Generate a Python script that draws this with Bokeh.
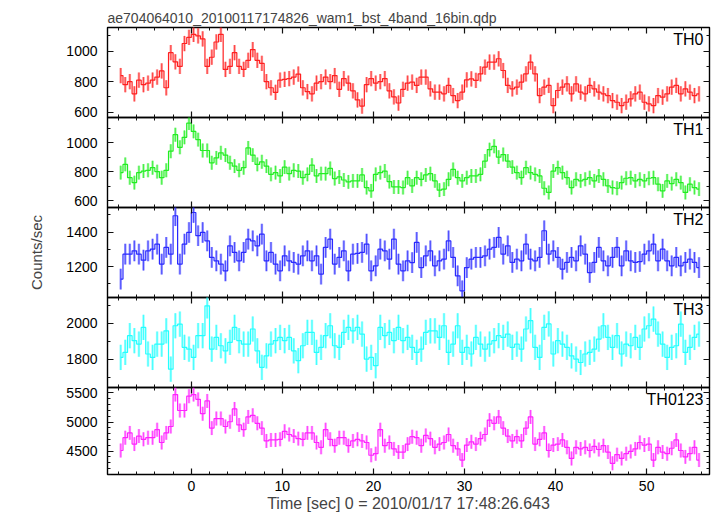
from bokeh.plotting import figure
from bokeh.models import Range1d, SingleIntervalTicker, LinearAxis, Label, ColumnDataSource, Title
from bokeh.layouts import column
from bokeh.embed import file_html
from bokeh.resources import INLINE

TITLE = "ae704064010_20100117174826_wam1_bst_4band_16bin.qdp"
XLABEL = "Time [sec] 0 = 2010/01/17 17:48:26.643"
YLABEL = "Counts/sec"
BIN_START = -7.75   # centre of first bin [s]
BIN_WIDTH = 0.5     # bin width [s]
X_RANGE = (-9.2, 56.9)

TH0 = [840, 780, 800, 720, 810, 780, 790, 810, 830, 870, 760, 990, 930, 900, 1050, 1090, 1110, 1100, 1080, 900,
       960, 1060, 1110, 880, 900, 990, 900, 880, 940, 1010, 940, 920, 800, 760, 730, 810, 815, 820, 830, 850,
       760, 735, 720, 790, 800, 830, 800, 840, 750, 820, 790, 740, 680, 640, 780, 820, 790, 800, 820, 740,
       700, 660, 750, 790,
       797, 775, 830, 830, 753, 731, 731, 720, 775, 709, 676, 731, 812, 818, 808, 851, 895, 928, 928, 950,
       873, 775, 753, 764, 797, 851, 928, 851, 709, 764, 775, 643, 742, 764, 786, 720, 786, 731, 720, 775,
       753, 731, 720, 709, 676, 665, 643, 665, 687, 720, 731, 665, 654, 643, 709, 698, 720, 764, 775, 720,
       753, 731, 709, 720]
TH1 = [795, 852, 760, 726, 795, 806, 811, 829, 802, 760, 811, 943, 1057, 970, 1039, 1137, 1080, 1023, 948, 948,
       863, 897, 932, 916, 863, 840, 811, 829, 966, 916, 852, 870, 840, 783, 795, 772, 833, 788, 811, 806,
       760, 783, 847, 772, 788, 788, 824, 754, 765, 744, 731, 738, 738, 779, 692, 669, 783, 795, 806, 733,
       696, 696, 692, 760,
       703, 760, 749, 779, 788, 738, 674, 681, 749, 817, 760, 738, 760, 772, 772, 783, 875, 954, 977, 902,
       920, 875, 833, 795, 760, 829, 795, 783, 772, 687, 658, 806, 829, 795, 760, 692, 749, 738, 749, 760,
       738, 772, 749, 703, 692, 687, 726, 756, 760, 738, 749, 738, 756, 760, 715, 669, 738, 719, 749, 726,
       658, 715, 692, 681]
TH2 = [1127, 1272, 1272, 1291, 1272, 1237, 1291, 1301, 1330, 1214, 1311, 1272, 1495, 1214, 1330, 1398, 1514, 1379, 1398, 1349,
       1253, 1233, 1214, 1175, 1320, 1282, 1233, 1282, 1359, 1349, 1320, 1388, 1233, 1282, 1214, 1175, 1262, 1233, 1224, 1214,
       1262, 1291, 1233, 1262, 1156, 1311, 1359, 1214, 1253, 1291, 1175, 1272, 1276, 1282, 1330, 1175, 1204, 1301, 1291, 1243,
       1359, 1214, 1175, 1233,
       1223, 1340, 1194, 1262, 1291, 1204, 1233, 1243, 1349, 1253, 1146, 1059, 1194, 1243, 1253, 1253, 1262, 1301, 1311, 1369,
       1272, 1320, 1224, 1243, 1233, 1330, 1243, 1233, 1253, 1408, 1272, 1291, 1253, 1185, 1224, 1253, 1233, 1320, 1272, 1165,
       1224, 1311, 1233, 1204, 1253, 1311, 1204, 1291, 1233, 1224, 1229, 1272, 1291, 1330, 1233, 1301, 1233, 1204, 1253, 1204,
       1224, 1243, 1224, 1194]
TH3 = [1809, 1837, 1930, 1902, 1883, 1976, 1828, 1809, 1883, 1883, 1957, 1744, 1985, 1994, 1865, 1855, 1809, 1930, 1930, 2096,
       1855, 1920, 1874, 1846, 1893, 1976, 1902, 1883, 1883, 1967, 1846, 1754, 1818, 1883, 1902, 1920, 1902, 1920, 1846, 1791,
       1874, 1948, 1948, 1837, 1865, 1930, 1985, 1874, 1865, 1948, 1976, 1957, 1976, 1939, 1800, 1809, 1763, 1976, 1930, 1948,
       1902, 1976, 1902, 1920,
       1865, 1837, 1855, 1948, 1957, 1957, 1920, 1985, 1837, 1883, 1985, 1837, 1865, 1828, 1920, 1883, 1855, 1883, 1902, 1930,
       1920, 1939, 1865, 1883, 1855, 1967, 2013, 1865, 1809, 1976, 1995, 1828, 1902, 1883, 1865, 1818, 1800, 1781, 1828, 1837,
       1855, 1911, 1985, 1920, 1865, 1930, 1828, 1883, 1874, 1920, 1865, 1967, 1985, 2022, 1939, 1883, 1809, 1865, 1874, 1994,
       1837, 1865, 1920, 1939]
TH0123 = [4510, 4730, 4813, 4620, 4758, 4703, 4730, 4730, 4868, 4648, 4813, 4923, 5473, 5198, 5198, 5445, 5473, 5390, 5143, 5363,
          4895, 5060, 5060, 4923, 5005, 5225, 4950, 4868, 5088, 5115, 4978, 4895, 4675, 4692, 4692, 4703, 4840, 4785, 4758, 4714,
          4703, 4813, 4813, 4648, 4565, 4868, 4703, 4593, 4730, 4730, 4593, 4675, 4703, 4675, 4648, 4428, 4455, 4868, 4593, 4648,
          4538, 4483, 4483, 4620,
          4747, 4730, 4593, 4769, 4714, 4565, 4620, 4648, 4785, 4593, 4538, 4345, 4604, 4659, 4620, 4714, 4785, 5033, 4978, 5088,
          4895, 4758, 4675, 4747, 4675, 4895, 5088, 4620, 4703, 4813, 4510, 4604, 4620, 4692, 4565, 4373, 4565, 4538, 4565, 4510,
          4582, 4527, 4593, 4483, 4290, 4439, 4373, 4455, 4494, 4538, 4648, 4604, 4620, 4345, 4565, 4483, 4455, 4549, 4692, 4510,
          4400, 4455, 4565, 4345]

# per-panel 1-sigma error (counts/sec), y range, major tick interval, number of minor ticks
ERRORS = {"TH0": 50, "TH1": 48, "TH2": 60, "TH3": 70, "TH0123": 120}
Y_RANGES = {"TH0": (565, 1155), "TH1": (554, 1176), "TH2": (1020, 1543), "TH3": (1642, 2142), "TH0123": (4097, 5594)}
Y_TICKS = {"TH0": (200, 2), "TH1": (200, 2), "TH2": (200, 2), "TH3": (200, 2), "TH0123": (500, 5)}
COLORS = {"TH0": "#ff2020", "TH1": "#22ee22", "TH2": "#2a2aff", "TH3": "#22ffff", "TH0123": "#ff22ff"}
SERIES = [("TH0", TH0), ("TH1", TH1), ("TH2", TH2), ("TH3", TH3), ("TH0123", TH0123)]

FONT = "Liberation Sans"
FRAME_H = 90
TOP = 27
BOTTOM = 37
OV = 10   # overlap between neighbouring canvases so tick labels are not clipped
x_range = Range1d(*X_RANGE)


def style_axis(a, labels):
    a.axis_line_color = None
    a.major_tick_in = 6
    a.major_tick_out = 0
    a.minor_tick_in = 3
    a.minor_tick_out = 0
    a.major_tick_line_color = "#111111"
    a.minor_tick_line_color = "#111111"
    a.major_tick_line_width = 1.2
    a.minor_tick_line_width = 1
    if labels:
        a.major_label_text_font = FONT
        a.major_label_text_font_size = "14px"
        a.major_label_text_color = "black"
    else:
        a.major_label_text_font_size = "1px"
        a.major_label_text_color = None
        a.major_label_standoff = 0
    return a


panels = []
n = len(SERIES)
for i, (name, vals) in enumerate(SERIES):
    first = i == 0
    last = i == n - 1
    top = TOP if first else OV
    bottom = BOTTOM if last else OV
    yr = Range1d(*Y_RANGES[name])
    p = figure(width=712, height=FRAME_H + top + bottom, x_range=x_range, y_range=yr,
               output_backend="svg", toolbar_location=None,
               min_border_left=107, min_border_right=3, min_border_top=top, min_border_bottom=bottom,
               x_axis_location=None, y_axis_location=None)
    p.grid.visible = False
    p.outline_line_color = "black"
    p.outline_line_width = 1.4
    p.background_fill_color = None
    p.border_fill_color = None
    if not first:
        p.styles = {"margin-top": f"-{2 * OV}px"}

    t = [BIN_START + BIN_WIDTH * k for k in range(len(vals))]
    e = ERRORS[name]
    src = ColumnDataSource(dict(t=t, v=vals, lo=[v - e for v in vals], hi=[v + e for v in vals]))
    col = COLORS[name]
    p.segment(x0="t", y0="lo", x1="t", y1="hi", source=src, line_color=col, line_alpha=0.45, line_width=2.5)
    p.segment(x0="t", y0="lo", x1="t", y1="hi", source=src, line_color=col, line_alpha=0.9, line_width=0.8)
    p.step(x="t", y="v", source=src, mode="center", line_color=col, line_width=1.2)

    interval, nminor = Y_TICKS[name]
    xt = SingleIntervalTicker(interval=10, num_minor_ticks=5)
    yt = SingleIntervalTicker(interval=interval, num_minor_ticks=nminor)

    left = style_axis(LinearAxis(ticker=yt), True)
    left.major_label_standoff = 10
    if name == "TH2":
        left.axis_label = YLABEL
        left.axis_label_text_font = FONT
        left.axis_label_text_font_size = "15px"
        left.axis_label_text_font_style = "normal"
        left.axis_label_standoff = 18
    p.add_layout(left, "left")
    p.add_layout(style_axis(LinearAxis(ticker=yt), False), "right")
    p.add_layout(style_axis(LinearAxis(ticker=xt), False), "above")
    below = style_axis(LinearAxis(ticker=xt), last)
    if last:
        below.major_label_standoff = 6
        below.axis_label = XLABEL
        below.axis_label_text_font = FONT
        below.axis_label_text_font_size = "16px"
        below.axis_label_text_font_style = "normal"
        below.axis_label_standoff = 1
    p.add_layout(below, "below")

    if first:
        p.add_layout(Title(text=TITLE, text_font=FONT, text_font_size="14px", text_font_style="normal",
                           align="left", standoff=4, offset=0), "above")

    p.add_layout(Label(x=X_RANGE[1], y=Y_RANGES[name][1], x_offset=-6, y_offset=-3, text=name,
                       text_align="right", text_baseline="top", text_font=FONT,
                       text_font_size="16px", text_color="black"))
    panels.append(p)

layout = column(*panels, spacing=0)
open("out.html", "w").write(file_html(layout, INLINE))
